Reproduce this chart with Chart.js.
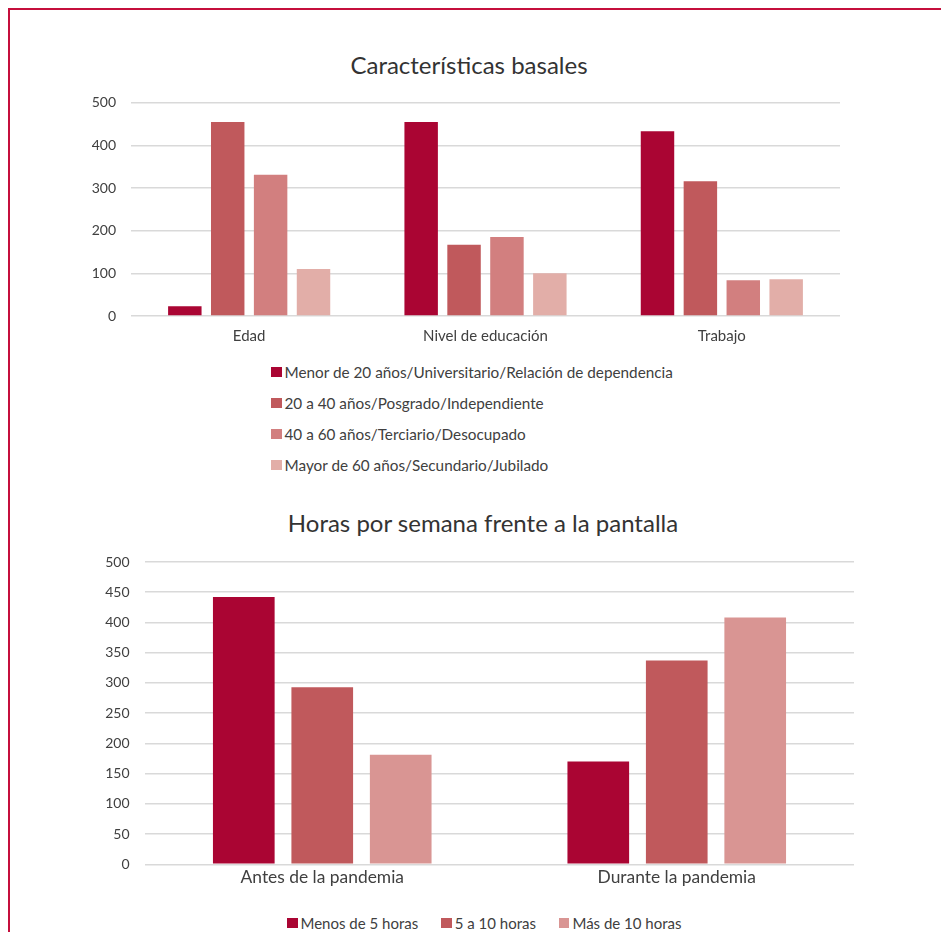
<!DOCTYPE html>
<html>
<head>
<meta charset="utf-8">
<script src="https://cdn.jsdelivr.net/npm/chart.js@4.4.1/dist/chart.umd.min.js"></script>
<style>
  html, body { margin: 0; padding: 0; background: #fff; }
  body { width: 941px; height: 932px; position: relative; overflow: hidden; font-family: Lato, "Open Sans", sans-serif; color: #404040; }
  .marco { position: absolute; left: 8px; top: 8px; width: 1000px; height: 1000px; border-left: 2.5px solid #C50F3C; border-top: 2.5px solid #C50F3C; }
  .titulo { position: absolute; font-size: 24px; line-height: 29px; color: #333; white-space: nowrap; transform: translateX(-50%); }
  .caja { position: absolute; }
  .leyenda { position: absolute; font-size: 15.3px; color: #404040; white-space: nowrap; }
  .leyenda .item { display: flex; align-items: center; }
  .leyenda .cuadro { width: 10.5px; height: 10.5px; margin-right: 3px; display: inline-block; }
  #leyenda1 .item { height: 31px; }
  #leyenda2 { display: flex; gap: 23px; font-size: 15px; }
</style>
</head>
<body>
<div class="marco"></div>

<div class="titulo" style="left:469px; top:50px;">Características basales</div>
<div class="caja" style="left:70px; top:90px; width:780px; height:260px;"><canvas id="chartBasales"></canvas></div>
<div class="leyenda" id="leyenda1" style="left:271px; top:356.5px;"></div>

<div class="titulo" style="left:483px; top:508px;">Horas por semana frente a la pantalla</div>
<div class="caja" style="left:80px; top:550px; width:784px; height:350px;"><canvas id="chartHoras"></canvas></div>
<div class="leyenda" id="leyenda2" style="left:287px; top:914px;"></div>

<script>
// datos
const categoriasBasales = ['Edad', 'Nivel de educación', 'Trabajo'];
const seriesBasales = [
  'Menor de 20 años/Universitario/Relación de dependencia',
  '20 a 40 años/Posgrado/Independiente',
  '40 a 60 años/Terciario/Desocupado',
  'Mayor de 60 años/Secundario/Jubilado'
];
const menor20 = [23, 455, 433];
const de20a40 = [455, 167, 316];
const de40a60 = [331, 185, 84];
const mayor60 = [110, 100, 86];
const coloresBasales = ['#AA0533', '#C0595C', '#D27F7F', '#E2AEA8'];
const ticksBasales = [0, 100, 200, 300, 400, 500];

const categoriasHoras = ['Antes de la pandemia', 'Durante la pandemia'];
const seriesHoras = ['Menos de 5 horas', '5 a 10 horas', 'Más de 10 horas'];
const menosDe5 = [442, 170];
const de5a10 = [293, 337];
const masDe10 = [181, 408];
const coloresHoras = ['#AA0533', '#C0595C', '#D99593'];
const ticksHoras = [0, 50, 100, 150, 200, 250, 300, 350, 400, 450, 500];

const FUENTE = 'Lato, "Open Sans", sans-serif';
const GRIS = '#D9D9D9';

function crearGrafico(canvas, categorias, nombres, valores, colores, opc) {
  return new Chart(canvas, {
    type: 'bar',
    data: {
      labels: categorias,
      datasets: nombres.map((n, i) => ({
        label: n,
        data: valores[i],
        backgroundColor: colores[i],
        borderWidth: 0,
        categoryPercentage: opc.catPct,
        barPercentage: opc.barPct
      }))
    },
    options: {
      responsive: true,
      maintainAspectRatio: false,
      animation: false,
      layout: { padding: { top: opc.padTop, right: opc.padRight, left: 0, bottom: 0 } },
      plugins: { legend: { display: false }, title: { display: false }, tooltip: { enabled: false } },
      scales: {
        x: {
          grid: { display: false, drawTicks: false },
          border: { display: false },
          ticks: { color: '#404040', font: { family: FUENTE, size: opc.xFont }, padding: opc.xPad, maxRotation: 0 },
          afterFit: s => { s.height = opc.xAlto; }
        },
        y: {
          min: 0,
          max: opc.ticks[opc.ticks.length - 1],
          afterBuildTicks: s => { s.ticks = opc.ticks.map(v => ({ value: v })); },
          grid: { color: GRIS, lineWidth: 1.6, drawTicks: false },
          border: { display: false },
          ticks: { color: '#404040', font: { family: FUENTE, size: 14 }, padding: opc.yPad },
          // ancho fijo y sin relleno extra arriba/abajo
          afterFit: s => { s.width = opc.yAncho; s.paddingTop = 0; s.paddingBottom = 0; }
        }
      }
    }
  });
}

function armarLeyenda(id, chart) {
  const cont = document.getElementById(id);
  chart.data.datasets.forEach(ds => {
    const item = document.createElement('div');
    item.className = 'item';
    item.innerHTML = `<span class="cuadro" style="background:${ds.backgroundColor}"></span><span>${ds.label}</span>`;
    cont.appendChild(item);
  });
}

const chartBasales = crearGrafico(
  document.getElementById('chartBasales'),
  categoriasBasales, seriesBasales, [menor20, de20a40, de40a60, mayor60], coloresBasales,
  { catPct: 0.726, barPct: 0.78, padTop: 12.7, padRight: 10, xFont: 15, xPad: 11, xAlto: 34, yPad: 15, yAncho: 61, ticks: ticksBasales }
);
armarLeyenda('leyenda1', chartBasales);

const chartHoras = crearGrafico(
  document.getElementById('chartHoras'),
  categoriasHoras, seriesHoras, [menosDe5, de5a10, masDe10], coloresHoras,
  { catPct: 0.664, barPct: 0.786, padTop: 12, padRight: 10, xFont: 17.4, xPad: 3, xAlto: 35.7, yPad: 15.5, yAncho: 65, ticks: ticksHoras }
);
armarLeyenda('leyenda2', chartHoras);
</script>
</body>
</html>
